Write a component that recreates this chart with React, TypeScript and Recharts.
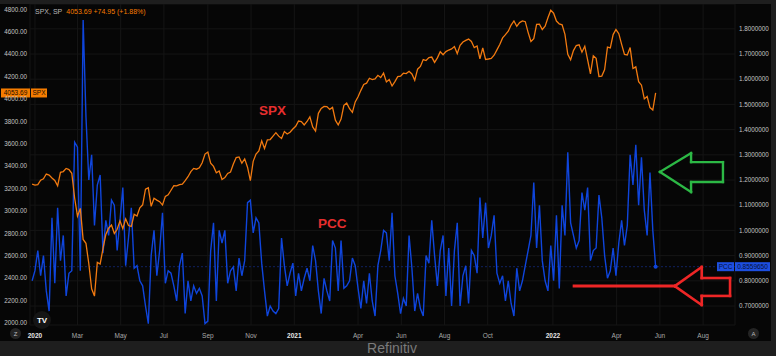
import { ComposedChart, Line, XAxis, YAxis, CartesianGrid, ReferenceLine, ReferenceDot } from "recharts";

const FONT = "'Liberation Sans', Arial, sans-serif";

// x values are days since 2020-01-01, one sample every 4 days
const START_DAY = -4;
const STEP = 4;

// Put/call ratio
const pccValues = [
  0.8, 0.84, 0.92, 0.82, 0.9, 0.76, 0.68, 1.05, 0.79, 1.09,
  0.88, 0.98, 0.74, 0.83, 0.84, 1.35, 1.33, 0.84, 1.835, 1.45,
  1.2, 1.3, 1.02, 1.18, 1.22, 0.91, 1.04, 0.98, 1.12, 1.1,
  0.92, 1.04, 1.17, 0.86, 0.97, 1.09, 0.85, 0.86, 0.8, 0.78,
  0.7, 0.63, 0.9, 1.0, 0.82, 0.92, 1.07, 0.79, 0.84,
  0.83, 0.78, 0.72, 0.86, 0.91, 0.67, 0.8, 0.72, 0.78, 0.75,
  0.77, 0.74, 0.63, 0.64, 0.92, 1.03, 0.72, 1.0, 0.95, 1.0,
  0.79, 0.84, 0.855, 0.76, 0.89, 0.82, 0.88, 1.11, 1.12, 0.99,
  1.05, 1.03, 0.87, 0.76, 0.66, 0.7, 0.68, 0.67, 0.69, 0.97,
  0.86, 0.78, 0.83, 0.87, 0.74, 0.83, 0.76, 0.81, 0.85, 0.8,
  0.94,
  0.88, 0.76, 0.67, 0.81, 0.76, 0.72, 0.96, 0.93, 0.76, 0.96,
  0.77, 0.78, 0.8, 0.89, 0.86, 0.77, 0.69, 0.8, 0.71, 0.83,
  0.72, 0.66, 0.86, 0.92, 1.0, 0.99, 0.88, 1.07, 0.82, 0.75,
  0.67, 0.73, 0.7, 0.98, 0.85, 0.68, 0.75, 0.69, 0.66, 0.9,
  0.87, 1.04, 0.9, 0.78, 0.92, 0.98, 0.74, 0.93, 0.7, 0.92,
  1.03, 0.7, 0.82, 0.86, 0.71, 0.92, 0.9, 0.83, 1.13, 0.97,
  1.11, 0.93, 0.98, 1.06, 0.83, 0.79, 0.82, 0.72, 0.8, 0.71,
  0.66, 0.85, 0.76, 0.8, 0.86, 0.92, 0.98, 1.19, 0.93, 1.1,
  0.88, 0.8, 0.76, 0.94, 0.8, 1.06, 0.77, 1.1, 0.98, 1.31,
  1.03, 0.98, 0.93, 0.96, 1.15, 1.08, 1.17, 0.88, 0.92, 0.93,
  1.14, 1.05, 0.9, 0.81, 0.84, 0.93, 0.82, 0.95, 1.04, 0.94,
  1.02, 1.3, 1.18, 1.34, 1.1, 1.29, 1.08, 0.98, 1.23, 1.0,
  0.855965,
];

// S&P 500 close
const spxValues = [
  3240, 3231, 3235, 3275, 3288, 3330, 3321, 3295, 3273, 3225,
  3345, 3352, 3380, 3370, 3337, 3116, 2954, 3023, 2746, 2711,
  2529, 2305, 2240, 2541, 2527, 2664, 2790, 2846, 2875, 2799,
  2837, 2912, 2843, 2930, 2870, 2863, 2971, 2955, 3029, 3055,
  3194, 3207, 3041, 3113, 3097, 3083, 3053, 3130, 3145, 3185,
  3227, 3225, 3236, 3239, 3271, 3306, 3351, 3380, 3373, 3385,
  3431, 3508, 3526, 3427, 3398, 3341, 3357, 3281, 3298, 3335,
  3348, 3419, 3477, 3483, 3427, 3465, 3391, 3270, 3443, 3509,
  3537, 3627, 3557, 3635, 3638, 3669, 3699, 3668, 3647, 3709,
  3687, 3703, 3732, 3756, 3803, 3799, 3768, 3799, 3841, 3750,
  3714, 3872, 3915, 3934, 3932, 3907, 3925, 3811, 3768, 3821,
  3943, 3963, 3913, 3881, 3974, 4020, 4077, 4129, 4141, 4185,
  4173, 4180, 4211, 4192, 4232, 4152, 4173, 4116, 4155, 4200,
  4204, 4230, 4227, 4247, 4223, 4166, 4266, 4290, 4352, 4343,
  4369, 4374, 4327, 4367, 4422, 4395, 4423, 4437, 4447, 4468,
  4405, 4479, 4509, 4523, 4535, 4514, 4458, 4473, 4358, 4455,
  4353, 4357, 4363, 4391, 4438, 4486, 4545, 4574, 4605, 4660,
  4697, 4649, 4682, 4697, 4690, 4595, 4513, 4538, 4667, 4668,
  4620, 4649, 4725, 4793, 4766, 4696, 4670, 4662, 4577, 4398,
  4350, 4432, 4477, 4484, 4418, 4471, 4349, 4225, 4385, 4363,
  4201, 4204, 4262, 4463, 4456, 4575, 4620, 4583, 4488, 4397,
  4393, 4459, 4272, 4287, 4155, 4123, 4001, 4023, 3923, 3901,
  4053.69,
];

const tickDays = [0, 60, 121, 182, 244, 305, 366, 456, 517, 578, 639, 731, 821, 882, 943];
const tickLabels = ["2020", "Mar", "May", "Jul", "Sep", "Nov", "2021", "Apr", "Jun", "Aug", "Oct", "2022", "Apr", "Jun", "Aug"];
const spxTicks = [2000, 2200, 2400, 2600, 2800, 3000, 3200, 3400, 3600, 3800, 4000, 4200, 4400, 4600, 4800];
const pccTicks = [0.7, 0.8, 0.9, 1.0, 1.1, 1.2, 1.3, 1.4, 1.5, 1.6, 1.7, 1.8];

// annotation outlines, in (day, pcc) units
const greenArrow = [[882, 1.232], [926, 1.307], [926, 1.271], [971, 1.271], [971, 1.192], [926, 1.192], [926, 1.152], [882, 1.232]];
const redArrow = [[903, 0.779], [941, 0.855], [941, 0.811], [981, 0.811], [981, 0.74], [941, 0.74], [941, 0.704], [903, 0.779]];
const redLine = [[761, 0.779], [903, 0.779]];

const data = pccValues.map((v, i) => ({
  d: START_DAY + i * STEP,
  pcc: v,
  spx: spxValues[i],
}));

const lastSpx = spxValues[spxValues.length - 1];
const lastPcc = pccValues[pccValues.length - 1];
const lastDay = START_DAY + (pccValues.length - 1) * STEP;

// eslint-disable-next-line @typescript-eslint/no-explicit-any
function DateTick({ x, y, payload }: any) {
  const label = tickLabels[tickDays.indexOf(payload.value)];
  const isYear = /^\d{4}$/.test(label);
  return (
    <text
      x={x}
      y={y + 8}
      textAnchor="middle"
      dominantBaseline="central"
      fontFamily={FONT}
      fontSize={6.5}
      fontWeight={isYear ? 700 : 400}
      fill={isYear ? "#e6e6e6" : "#a8a8a8"}
    >
      {label}
    </text>
  );
}

// eslint-disable-next-line @typescript-eslint/no-explicit-any
function SpxTag({ viewBox }: any) {
  if (!viewBox) return null;
  const { x, y } = viewBox;
  return (
    <g fontFamily={FONT} fontSize={6.5}>
      <rect x={x - 29} y={y - 4.5} width={29} height={9} fill="#f57c00" />
      <text x={x - 14.5} y={y} textAnchor="middle" dominantBaseline="central" fill="#1a0c00">
        {lastSpx.toFixed(2)}
      </text>
      <rect x={x + 1} y={y - 4.5} width={16} height={9} fill="#f57c00" />
      <text x={x + 9} y={y} textAnchor="middle" dominantBaseline="central" fill="#1a0c00">
        SPX
      </text>
    </g>
  );
}

// eslint-disable-next-line @typescript-eslint/no-explicit-any
function PccTag({ viewBox }: any) {
  if (!viewBox) return null;
  const right = viewBox.x + viewBox.width;
  const y = viewBox.y;
  return (
    <g fontFamily={FONT} fontSize={6.5}>
      <rect x={right - 18} y={y - 4.5} width={17} height={9} fill="#1d4fe0" />
      <text x={right - 9.5} y={y} textAnchor="middle" dominantBaseline="central" fill="#081238">
        PCC
      </text>
      <rect x={right} y={y - 4.5} width={35} height={9} fill="#1d4fe0" />
      <text x={right + 17.5} y={y} textAnchor="middle" dominantBaseline="central" fill="#081238">
        {lastPcc.toFixed(7)}
      </text>
    </g>
  );
}

function outline(points: number[][], color: string, width: number, key: string) {
  return points.slice(1).map((p, i) => (
    <ReferenceLine
      key={`${key}-${i}`}
      yAxisId="right"
      segment={[
        { x: points[i][0], y: points[i][1] },
        { x: p[0], y: p[1] },
      ]}
      stroke={color}
      strokeWidth={width}
      strokeLinecap="square"
      ifOverflow="visible"
    />
  ));
}

export default function App() {
  return (
    <div style={{ position: "absolute", left: 0, top: 0, width: 776, height: 356, background: "#1e1e1e", fontFamily: FONT }}>
      <div style={{ position: "absolute", left: 0, top: 4, width: 771, height: 337, background: "#060606" }}>
        <ComposedChart width={771} height={337} data={data} margin={{ top: 0, right: 0, bottom: 0, left: 0 }}>
          <CartesianGrid yAxisId="right" stroke="#151515" strokeWidth={1} />
          <XAxis
            dataKey="d"
            type="number"
            domain={[-7, 988]}
            ticks={tickDays}
            interval={0}
            allowDataOverflow
            height={16}
            tickSize={0}
            axisLine={false}
            tick={<DateTick />}
          />
          <YAxis
            yAxisId="left"
            orientation="left"
            domain={[1982, 4848]}
            ticks={spxTicks}
            allowDataOverflow
            width={30}
            tickSize={0}
            tickMargin={3}
            axisLine={false}
            interval={0}
            tickFormatter={(v: number) => v.toFixed(2)}
            tick={{ fill: "#c4c4c4", fontSize: 6.3, fontFamily: FONT }}
          />
          <YAxis
            yAxisId="right"
            orientation="right"
            domain={[0.6246, 1.8984]}
            ticks={pccTicks}
            allowDataOverflow
            width={36}
            tickSize={0}
            tickMargin={4}
            axisLine={false}
            interval={0}
            tickFormatter={(v: number) => v.toFixed(7)}
            tick={{ fill: "#c4c4c4", fontSize: 6.3, fontFamily: FONT, textAnchor: "start" }}
          />
          <ReferenceLine yAxisId="right" y={lastPcc} stroke="#102260" strokeDasharray="2 2" label={<PccTag />} />
          <Line
            yAxisId="right"
            dataKey="pcc"
            type="linear"
            stroke="#0f45dc"
            strokeWidth={1.4}
            dot={false}
            isAnimationActive={false}
          />
          <Line
            yAxisId="left"
            dataKey="spx"
            type="linear"
            stroke="#f27a10"
            strokeWidth={1.3}
            dot={false}
            isAnimationActive={false}
          />
          <ReferenceDot yAxisId="right" x={lastDay} y={lastPcc} r={2} fill="#0f45dc" stroke="none" />
          <ReferenceLine yAxisId="left" y={lastSpx} stroke="none" label={<SpxTag />} />
          {outline(redLine, "#ee2626", 3, "rl")}
          {outline(redArrow, "#ee2626", 2.6, "ra")}
          {outline(greenArrow, "#2cb845", 2.4, "ga")}
        </ComposedChart>

        <div style={{ position: "absolute", left: 35, top: 4, fontSize: 7, whiteSpace: "nowrap" }}>
          <span style={{ color: "#b8b8b8" }}>SPX, SP</span>
          <span style={{ color: "#f57c00", marginLeft: 4 }}>4053.69 +74.95 (+1.88%)</span>
        </div>
        <div style={{ position: "absolute", left: 259, top: 99, fontSize: 13.5, fontWeight: 700, color: "#e62e2e" }}>SPX</div>
        <div style={{ position: "absolute", left: 318, top: 212, fontSize: 13.5, fontWeight: 700, color: "#e62e2e" }}>PCC</div>
        <div
          style={{
            position: "absolute", left: 33, top: 307, width: 18, height: 18, borderRadius: 9,
            background: "#151515", color: "#ffffff", fontSize: 8, fontWeight: 700,
            display: "flex", alignItems: "center", justifyContent: "center",
          }}
        >
          TV
        </div>
        <div
          style={{
            position: "absolute", left: 10, top: 324, width: 11, height: 11, borderRadius: 6,
            background: "#242424", color: "#bbbbbb", fontSize: 6,
            display: "flex", alignItems: "center", justifyContent: "center",
          }}
        >
          Z
        </div>
        <div
          style={{
            position: "absolute", left: 748, top: 324, width: 11, height: 11, borderRadius: 6,
            background: "#242424", color: "#bbbbbb", fontSize: 6,
            display: "flex", alignItems: "center", justifyContent: "center",
          }}
        >
          A
        </div>
      </div>
      <div style={{ position: "absolute", left: 4, top: 341, width: 776, textAlign: "center", fontSize: 14, lineHeight: "15px", color: "#7a7a7a" }}>
        Refinitiv
      </div>
    </div>
  );
}
